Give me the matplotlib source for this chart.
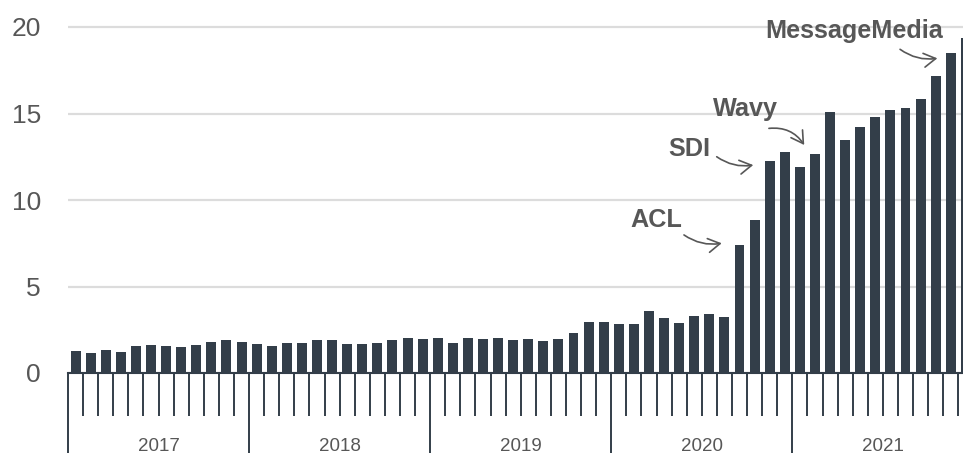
import matplotlib
matplotlib.use("Agg")
import matplotlib.pyplot as plt
import matplotlib.transforms as mtransforms
import numpy as np

# ---- data -------------------------------------------------------------
years = ["2017", "2018", "2019", "2020", "2021"]
values_2017 = [1.27, 1.16, 1.31, 1.21, 1.56, 1.62, 1.54, 1.50, 1.62, 1.77, 1.89, 1.79]
values_2018 = [1.68, 1.54, 1.75, 1.71, 1.93, 1.89, 1.66, 1.70, 1.76, 1.93, 2.05, 1.97]
values_2019 = [2.01, 1.72, 2.01, 1.95, 2.01, 1.93, 1.97, 1.85, 1.97, 2.31, 2.93, 2.97]
values_2020 = [2.81, 2.83, 3.57, 3.16, 2.89, 3.28, 3.39, 3.24, 7.38, 8.84, 12.28, 12.80]
values_2021 = [11.93, 12.66, 15.11, 13.45, 14.22, 14.82, 15.18, 15.30, 15.83, 17.15, 18.47, 19.37]
yticks = [0, 5, 10, 15, 20]

# acquisitions: label and the month index (0 = Jan 2017) the arrow points at
events = ["ACL", "SDI", "Wavy", "MessageMedia"]
event_months = [44, 46, 49, 58]

values = values_2017 + values_2018 + values_2019 + values_2020 + values_2021

# ---- style ------------------------------------------------------------
BAR = "#333e49"
TXT = "#575757"
GRID = "#dcdcdc"
plt.rcParams["font.family"] = ["Liberation Sans", "DejaVu Sans"]

W, H = 963, 453
fig = plt.figure(figsize=(W / 100, H / 100), dpi=100)
ax_left = 68 / W
ax_bottom = (H - 373) / H
ax = fig.add_axes([ax_left, ax_bottom, 1 - ax_left, 373 / H])

x = np.arange(len(values))
ax.bar(x, values, width=0.66, color=BAR, zorder=2)

px_per_month = 15.09
ax.set_xlim(-0.5, -0.5 + (W - 68) / px_per_month)
ax.set_ylim(0, 373 / 17.3)

# y axis
ax.set_yticks(yticks)
ax.set_yticklabels([str(t) for t in yticks])
ax.tick_params(axis="y", length=0, pad=19.5, labelsize=19, labelcolor=TXT)
ax.yaxis.grid(True, color=GRID, linewidth=1.6)
ax.set_axisbelow(True)

# x axis ticks: month boundaries (short) and year boundaries (long)
n_years = len(years)
year_bounds = [-0.5 + 12 * k for k in range(n_years)]
month_bounds = [-0.5 + m for m in range(len(values)) if m % 12 != 0]
ax.set_xticks(year_bounds)
ax.set_xticks(month_bounds, minor=True)
ax.tick_params(axis="x", which="major", length=62, width=1.4, color=BAR,
               labelbottom=False, direction="out")
ax.tick_params(axis="x", which="minor", length=31, width=1.4, color=BAR,
               direction="out")

for s in ["top", "right", "left"]:
    ax.spines[s].set_visible(False)
ax.spines["bottom"].set_color(BAR)
ax.spines["bottom"].set_linewidth(1.5)
ax.spines["bottom"].set_zorder(3)

# year labels centred under each year
trans = mtransforms.blended_transform_factory(ax.transData, ax.transAxes)
for k, yr in enumerate(years):
    ax.text(12 * k + 5.5, -0.196, yr, transform=trans, ha="center", va="center",
            fontsize=13.5, color=TXT, clip_on=False)

# annotations: offsets (months, value units) relative to the target bar
text_off = {"ACL": (-5.53, 1.04), "SDI": (-5.35, 0.28), "Wavy": (-4.60, 2.21),
            "MessageMedia": (-6.41, 0.88)}
start_off = {"ACL": (-3.68, 0.60), "SDI": (-3.51, 0.22), "Wavy": (-3.05, 1.48),
             "MessageMedia": (-3.36, 0.24)}
tip_off = {"ACL": (-1.18, 0.12), "SDI": (-1.09, -0.26), "Wavy": (-0.71, 0.52),
           "MessageMedia": (-0.89, -0.28)}
rads = {"ACL": 0.2, "SDI": 0.2, "Wavy": -0.3, "MessageMedia": 0.2}

for lab, m in zip(events, event_months):
    v = values[m]
    tx, ty = text_off[lab]
    ax.text(m + tx, v + ty, lab, ha="center", va="baseline", fontsize=18.2,
            fontweight="bold", color=TXT, zorder=5)
    sx, sy = start_off[lab]
    ex, ey = tip_off[lab]
    ax.annotate("", xy=(m + ex, v + ey), xytext=(m + sx, v + sy),
                arrowprops=dict(arrowstyle="->,head_length=0.85,head_width=0.5",
                                connectionstyle=f"arc3,rad={rads[lab]}",
                                color=TXT, lw=1.2, shrinkA=0, shrinkB=0),
                zorder=5)

fig.savefig("out.png", dpi=100)
